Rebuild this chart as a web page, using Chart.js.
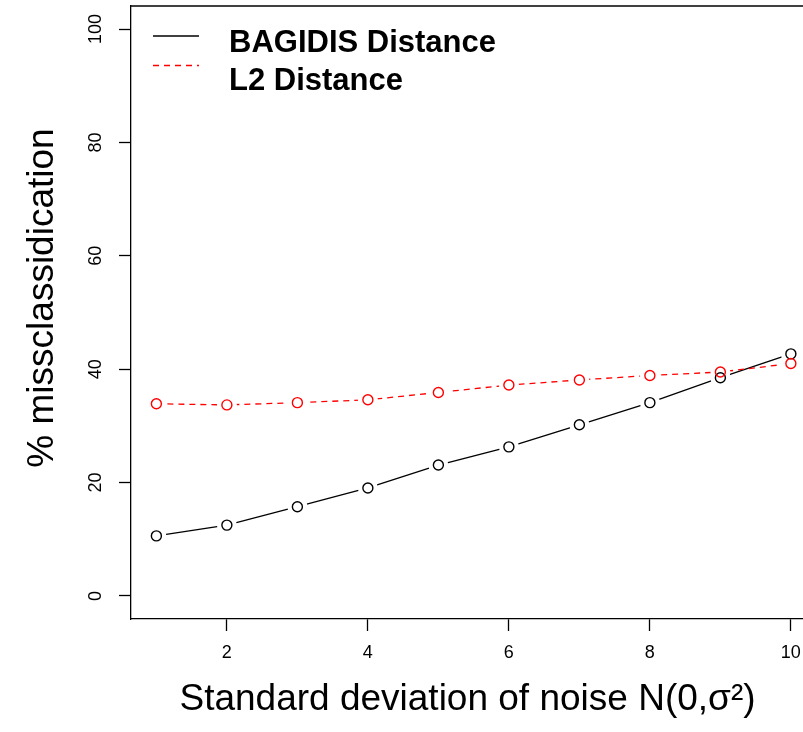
<!DOCTYPE html>
<html>
<head>
<meta charset="utf-8">
<script src="https://cdn.jsdelivr.net/npm/chart.js@4/dist/chart.umd.min.js"></script>
<style>
  html, body { margin: 0; padding: 0; background: #fff; overflow: hidden; }
  #wrap { width: 803px; height: 732px; }
</style>
</head>
<body>
<div id="wrap"><canvas id="c" width="803" height="732"></canvas></div>
<script>
// ---- data ----
const noiseSd = [1, 2, 3, 4, 5, 6, 7, 8, 9, 10];
const bagidisDist = [10.6, 12.5, 15.75, 19.05, 23.1, 26.3, 30.2, 34.1, 38.5, 42.7];
const l2Dist = [33.9, 33.7, 34.1, 34.6, 35.9, 37.2, 38.1, 38.9, 39.5, 41.0];
const xTickValues = [2, 4, 6, 8, 10];
const yTickValues = [0, 20, 40, 60, 80, 100];
const seriesNames = ['BAGIDIS Distance', 'L2 Distance'];
const xTitle = 'Standard deviation of noise N(0,\u03C3\u00B2)';
const yTitle = '% missclassidication';

const FONT = '"Liberation Sans", Arial, Helvetica, sans-serif';
const pts = (ys) => noiseSd.map((x, i) => ({ x: x, y: ys[i] }));

const lineDs = (label, ys, color, dash, order) => ({
  label, data: pts(ys), showLine: true, borderColor: color, borderWidth: 1.3,
  borderDash: dash, pointRadius: 0, fill: false, tension: 0, order
});
const haloDs = (ys, order) => ({
  data: pts(ys), showLine: false, pointRadius: 10, pointBackgroundColor: '#fff',
  pointBorderWidth: 0, pointBorderColor: 'rgba(0,0,0,0)', order
});
const markDs = (ys, color, order) => ({
  data: pts(ys), showLine: false, pointRadius: 5, pointBackgroundColor: 'rgba(0,0,0,0)',
  pointBorderColor: color, pointBorderWidth: 1.4, order
});

const noPad = (s) => { s.paddingTop = 0; s.paddingBottom = 0; s.paddingLeft = 0; s.paddingRight = 0; };

const frameAndText = {
  id: 'frameAndText',
  afterDraw(chart) {
    const ctx = chart.ctx, a = chart.chartArea;
    ctx.save();
    // top frame line (right side of the box lies outside the picture)
    ctx.strokeStyle = '#000'; ctx.lineWidth = 1.3;
    ctx.beginPath(); ctx.moveTo(a.left, a.top); ctx.lineTo(a.right, a.top); ctx.stroke();

    // legend
    const ls = [chart.data.datasets[0], chart.data.datasets[1]];
    const lineY = [36, 65.5], textY = [52, 90];
    ls.forEach((d, i) => {
      ctx.strokeStyle = d.borderColor; ctx.lineWidth = 1.3;
      ctx.setLineDash(d.borderDash || []);
      ctx.beginPath(); ctx.moveTo(153, lineY[i]); ctx.lineTo(199, lineY[i]); ctx.stroke();
      ctx.setLineDash([]);
      ctx.fillStyle = '#000'; ctx.font = 'bold 31px ' + FONT;
      ctx.textAlign = 'left'; ctx.textBaseline = 'alphabetic';
      ctx.fillText(d.label, 229, textY[i]);
    });

    // axis titles
    ctx.fillStyle = '#000'; ctx.font = '37px ' + FONT;
    ctx.textAlign = 'center'; ctx.textBaseline = 'alphabetic';
    ctx.fillText(xTitle, 467.5, 710);
    ctx.translate(53, 298); ctx.rotate(-Math.PI / 2);
    ctx.fillText(yTitle, 0, 0);
    ctx.restore();
  }
};

new Chart(document.getElementById('c'), {
  type: 'scatter',
  data: {
    datasets: [
      lineDs(seriesNames[0], bagidisDist, '#000000', [], 6),
      lineDs(seriesNames[1], l2Dist, '#FF0000', [6, 5], 5),
      haloDs(bagidisDist, 4),
      haloDs(l2Dist, 3),
      markDs(bagidisDist, '#000000', 2),
      markDs(l2Dist, '#FF0000', 1)
    ]
  },
  options: {
    responsive: false,
    devicePixelRatio: 1,
    animation: false,
    events: [],
    layout: { autoPadding: false, padding: { top: 6, left: 0, right: 0, bottom: 0 } },
    plugins: { legend: { display: false }, tooltip: { enabled: false }, title: { display: false } },
    scales: {
      x: {
        type: 'linear', position: 'bottom',
        min: 0.64, max: 10.172,
        afterBuildTicks: (s) => { s.ticks = xTickValues.map(v => ({ value: v })); },
        afterFit: (s) => { s.height = 113; noPad(s); },
        grid: { display: true, drawOnChartArea: false, drawTicks: true, tickLength: 12, tickColor: '#000', tickWidth: 1.3 },
        border: { display: true, color: '#000', width: 1.3 },
        ticks: { color: '#000', font: { family: FONT, size: 18 }, padding: 11, maxRotation: 0, autoSkip: false }
      },
      y: {
        type: 'linear', position: 'left',
        min: -4.06, max: 104.06,
        afterBuildTicks: (s) => { s.ticks = yTickValues.map(v => ({ value: v })); },
        afterFit: (s) => { s.width = 131; noPad(s); },
        grid: { display: true, drawOnChartArea: false, drawTicks: true, tickLength: 12, tickColor: '#000', tickWidth: 1.3 },
        border: { display: true, color: '#000', width: 1.3 },
        ticks: { color: '#000', font: { family: FONT, size: 18 }, padding: 8, minRotation: 90, maxRotation: 90, crossAlign: 'center', autoSkip: false }
      }
    }
  },
  plugins: [frameAndText]
});
</script>
</body>
</html>
